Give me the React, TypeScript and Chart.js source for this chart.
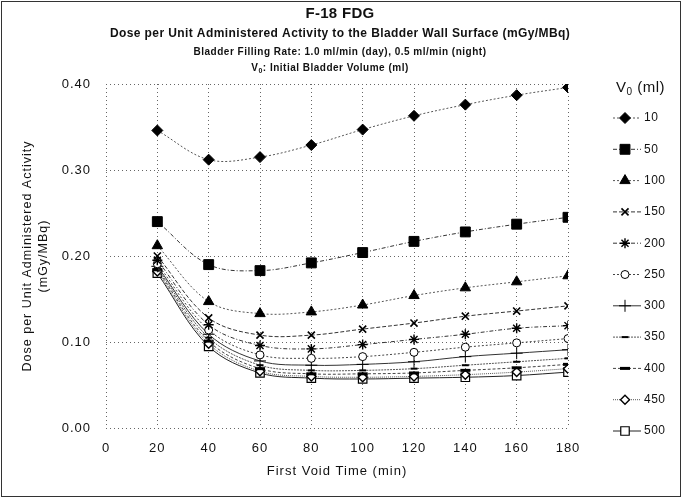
import React, { useEffect, useRef } from 'react';
import { Chart, registerables } from 'chart.js';
import { drawPoint } from 'chart.js/helpers';

Chart.register(...registerables);

// ---- data ----
const times = [20, 40, 60, 80, 100, 120, 140, 160, 180];
const volumes = ['10', '50', '100', '150', '200', '250', '300', '350', '400', '450', '500'];
const v10 = [0.346, 0.312, 0.315, 0.329, 0.347, 0.363, 0.376, 0.387, 0.396];
const v50 = [0.240, 0.190, 0.183, 0.192, 0.204, 0.217, 0.228, 0.237, 0.245];
const v100 = [0.212, 0.147, 0.133, 0.135, 0.143, 0.154, 0.163, 0.170, 0.177];
const v150 = [0.200, 0.128, 0.108, 0.108, 0.115, 0.122, 0.130, 0.136, 0.142];
const v200 = [0.195, 0.120, 0.096, 0.092, 0.097, 0.103, 0.109, 0.116, 0.119];
const v250 = [0.191, 0.114, 0.085, 0.081, 0.083, 0.088, 0.094, 0.099, 0.104];
const v300 = [0.188, 0.109, 0.078, 0.073, 0.074, 0.077, 0.083, 0.087, 0.091];
const v350 = [0.186, 0.105, 0.073, 0.067, 0.067, 0.069, 0.073, 0.077, 0.081];
const v400 = [0.184, 0.101, 0.069, 0.063, 0.063, 0.064, 0.067, 0.070, 0.074];
const v450 = [0.182, 0.098, 0.066, 0.060, 0.059, 0.060, 0.062, 0.065, 0.069];
const v500 = [0.180, 0.095, 0.064, 0.058, 0.057, 0.058, 0.059, 0.061, 0.065];
const seriesValues = [v10, v50, v100, v150, v200, v250, v300, v350, v400, v450, v500];
const xTickValues = [0, 20, 40, 60, 80, 100, 120, 140, 160, 180];
const yTickValues = [0, 0.1, 0.2, 0.3, 0.4];

const titleText = 'F-18 FDG';
const subtitleText = 'Dose per Unit Administered Activity to the Bladder Wall Surface (mGy/MBq)';
const rateText = 'Bladder Filling Rate: 1.0 ml/min (day), 0.5 ml/min (night)';
const volText = ': Initial Bladder Volume (ml)';
const xTitle = 'First Void Time (min)';
const yTitle = ['Dose per Unit Administered Activity', '(mGy/MBq)'];
const legendTitle = ' (ml)';

// ---- styles ----
const FONT = "'Liberation Sans', Arial, sans-serif";
const pointStyles = ['rectRot', 'rect', 'triangle', 'crossRot', 'star', 'circle', 'cross', 'line', 'line', 'rectRot', 'rect'];
const pointRadii = [5.5, 7, 6, 5, 5, 4, 6, 3.5, 5, 4.5, 6];
const pointFills = ['#000', '#000', '#000', '#000', '#000', '#fff', '#000', '#000', '#000', '#fff', '#fff'];
const pointWidths = [1, 1, 1, 1.6, 1.4, 1, 1, 2, 3, 1.4, 1.2];
const lineDashes = [[2, 2], [4, 2, 1, 2], [2, 2], [4, 2], [4, 2, 1, 2], [2, 2], [], [2, 1], [3, 2], [1, 1], []];
const lineColors = ['#555', '#333', '#555', '#333', '#333', '#444', '#333', '#555', '#444', '#555', '#222'];

function setSpacing(ctx: CanvasRenderingContext2D, px: number) {
  (ctx as any).letterSpacing = `${px}px`;
}

function drawSubV(ctx: CanvasRenderingContext2D, x: number, y: number, size: number, rest: string, align: 'center' | 'left', bold: boolean) {
  const b = bold ? 'bold ' : '';
  const mainFont = `${b}${size}px ${FONT}`;
  const subFont = `${b}${Math.round(size * 0.7)}px ${FONT}`;
  ctx.font = mainFont;
  const wV = ctx.measureText('V').width;
  ctx.font = subFont;
  const w0 = ctx.measureText('0').width;
  ctx.font = mainFont;
  const wR = ctx.measureText(rest).width;
  const total = wV + w0 + wR;
  const sx = align === 'center' ? x - total / 2 : x;
  ctx.textAlign = 'left';
  ctx.textBaseline = 'middle';
  ctx.font = mainFont;
  ctx.fillText('V', sx, y);
  ctx.font = subFont;
  ctx.fillText('0', sx + wV, y + size * 0.3);
  ctx.font = mainFont;
  ctx.fillText(rest, sx + wV + w0, y);
}

const spacingPlugin = {
  id: 'spacing',
  beforeDraw(chart: any) {
    setSpacing(chart.ctx, 1);
  },
};

const decorPlugin = {
  id: 'decor',
  afterDraw(chart: any) {
    const ctx: CanvasRenderingContext2D = chart.ctx;
    ctx.save();
    // frame
    ctx.strokeStyle = '#333';
    ctx.lineWidth = 1;
    ctx.strokeRect(1.5, 1.5, 679, 495);
    // titles
    ctx.fillStyle = '#111';
    ctx.textAlign = 'center';
    ctx.textBaseline = 'middle';
    const cx = 340;
    setSpacing(ctx, 0.3);
    ctx.font = `bold 15px ${FONT}`;
    ctx.fillText(titleText, cx, 14);
    setSpacing(ctx, 0.4);
    ctx.font = `bold 12px ${FONT}`;
    ctx.fillText(subtitleText, cx, 34);
    setSpacing(ctx, 0.5);
    ctx.font = `bold 10px ${FONT}`;
    ctx.fillText(rateText, cx, 52);
    drawSubV(ctx, 330, 68, 10, volText, 'center', true);

    // legend
    ctx.fillStyle = '#111';
    const lgX = 613;
    setSpacing(ctx, 0.5);
    ctx.textBaseline = 'middle';
    ctx.textAlign = 'left';
    ctx.font = `15px ${FONT}`;
    ctx.fillText('V', lgX + 3, 88);
    const wV = ctx.measureText('V').width;
    ctx.font = `10px ${FONT}`;
    ctx.fillText('0', lgX + 3 + wV, 92);
    const w0 = ctx.measureText('0').width;
    ctx.font = `15px ${FONT}`;
    ctx.fillText(legendTitle, lgX + 3 + wV + w0, 88);

    const top = 118;
    const step = 31.3;
    chart.data.datasets.forEach((ds: any, i: number) => {
      const y = top + i * step;
      ctx.save();
      ctx.strokeStyle = ds.borderColor;
      ctx.lineWidth = 1;
      ctx.setLineDash(ds.borderDash || []);
      ctx.beginPath();
      ctx.moveTo(lgX, y);
      ctx.lineTo(lgX + 28, y);
      ctx.stroke();
      ctx.restore();
      ctx.save();
      ctx.fillStyle = ds.pointBackgroundColor;
      ctx.strokeStyle = ds.pointBorderColor;
      ctx.lineWidth = ds.pointBorderWidth;
      drawPoint(ctx, { pointStyle: ds.pointStyle, radius: ds.pointRadius, rotation: 0, borderWidth: ds.pointBorderWidth }, lgX + 12, y);
      ctx.restore();
      ctx.fillStyle = '#111';
      ctx.font = `12px ${FONT}`;
      ctx.textAlign = 'left';
      ctx.textBaseline = 'middle';
      ctx.fillText(ds.label, lgX + 31, y);
    });
    ctx.restore();
  },
};

export default function App() {
  const ref = useRef<HTMLCanvasElement | null>(null);
  useEffect(() => {
    if (!ref.current) return;
    const datasets = volumes.map((v, i) => ({
      label: v,
      data: times.map((t, j) => ({ x: t, y: seriesValues[i][j] })),
      borderColor: lineColors[i],
      borderWidth: 1,
      borderDash: lineDashes[i],
      pointStyle: pointStyles[i],
      pointRadius: pointRadii[i],
      pointBackgroundColor: pointFills[i],
      pointBorderColor: '#000',
      pointBorderWidth: pointWidths[i],
      tension: 0.35,
      fill: false,
    }));
    const chart = new Chart(ref.current, {
      type: 'line',
      data: { datasets },
      plugins: [spacingPlugin, decorPlugin],
      options: {
        responsive: false,
        animation: false,
        events: [],
        layout: { padding: { top: 84, right: 115, bottom: 0, left: 0 } },
        plugins: {
          legend: { display: false },
          title: { display: false },
          tooltip: { enabled: false },
        },
        scales: {
          x: {
            type: 'linear',
            min: 0,
            max: 180,
            afterBuildTicks: (scale: any) => {
              scale.ticks = xTickValues.map((v) => ({ value: v }));
            },
            afterFit: (scale: any) => {
              scale.height = 71;
            },
            ticks: {
              color: '#111',
              font: { family: FONT, size: 13 },
              padding: 13,
              maxRotation: 0,
              callback: (v: any) => String(v),
            },
            grid: { color: '#666', lineWidth: 1, drawTicks: false },
            border: { display: false, dash: [1, 3] },
            title: {
              display: true,
              text: xTitle,
              color: '#111',
              font: { family: FONT, size: 13 },
              padding: { top: 4, bottom: 20 },
            },
          },
          y: {
            type: 'linear',
            min: 0,
            max: 0.4,
            afterBuildTicks: (scale: any) => {
              scale.ticks = yTickValues.map((v) => ({ value: v }));
            },
            afterFit: (scale: any) => {
              scale.width = 106;
            },
            ticks: {
              color: '#111',
              font: { family: FONT, size: 13 },
              padding: 15,
              callback: (v: any) => Number(v).toFixed(2),
            },
            grid: { color: '#666', lineWidth: 1, drawTicks: false },
            border: { display: false, dash: [1, 3] },
            title: {
              display: true,
              text: yTitle,
              color: '#111',
              font: { family: FONT, size: 12.5, lineHeight: 1.3 },
              padding: { top: 19, bottom: 0 },
            },
          },
        },
      } as any,
    });
    return () => chart.destroy();
  }, []);
  return (
    <div style={{ position: 'fixed', left: 0, top: 0, width: 683, height: 499, background: '#fff' }}>
      <canvas ref={ref} width={683} height={499} style={{ display: 'block', width: 683, height: 499 }} />
    </div>
  );
}
